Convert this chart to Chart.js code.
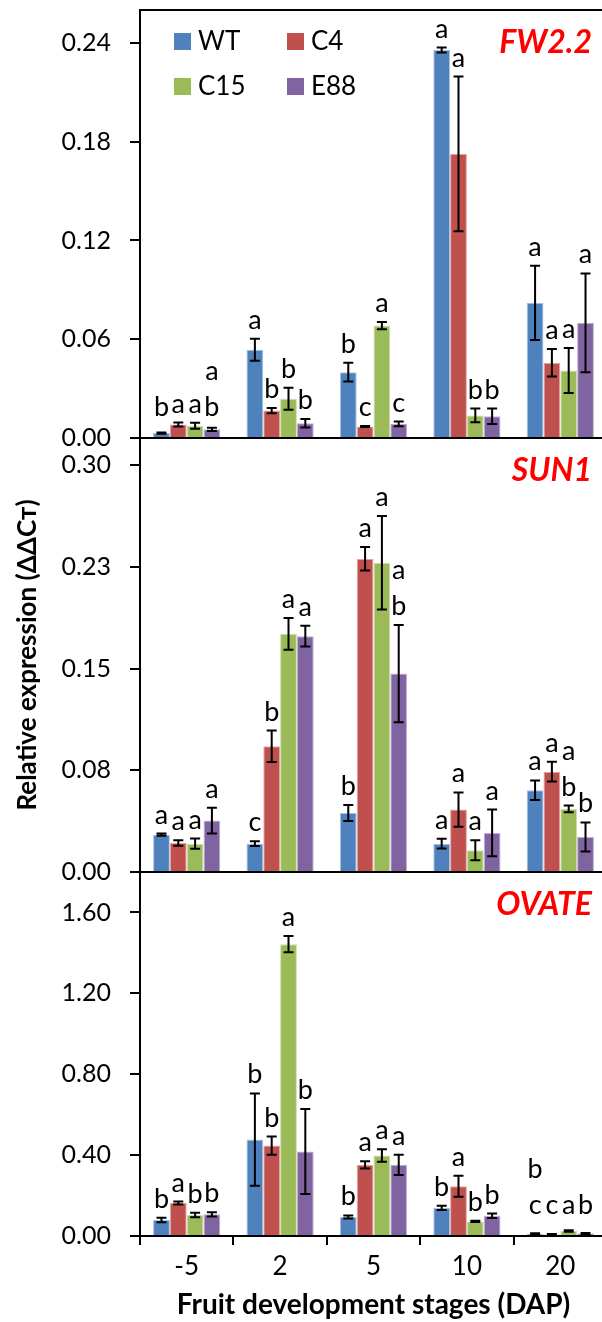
<!DOCTYPE html>
<html>
<head>
<meta charset="utf-8">
<script src="https://cdn.jsdelivr.net/npm/chart.js"></script>
<style>
  html, body { margin: 0; padding: 0; background: #fff; overflow: hidden; }
  #wrap { width: 602px; height: 1322px; overflow: hidden; }
</style>
</head>
<body>
<div id="wrap"><canvas id="chart" width="612" height="1322"></canvas></div>
<script>
/* categories and series */
const stages = ['-5', '2', '5', '10', '20'];
const lines = ['WT', 'C4', 'C15', 'E88'];
const fills = ['#4F81BD', '#C0504D', '#9BBB59', '#8064A2'];
const edges = ['#A9C2E0', '#E0AAA8', '#CEDEAE', '#C0B2D2'];

/* FW2.2 : rows = WT, C4, C15, E88 ; columns = stages */
const fwMean = [
  [0.003, 0.0536, 0.040, 0.2357, 0.0821],
  [0.0082, 0.0167, 0.007, 0.1726, 0.0457],
  [0.0074, 0.0238, 0.0683, 0.0137, 0.041],
  [0.0053, 0.009, 0.0086, 0.0132, 0.070]
];
const fwErr = [
  [0.0004, 0.0067, 0.0057, 0.0015, 0.0226],
  [0.0012, 0.0016, 0.0003, 0.047, 0.0084],
  [0.0018, 0.0067, 0.0022, 0.0042, 0.0137],
  [0.001, 0.0026, 0.0014, 0.0047, 0.030]
];
const fwLetters = [
  ['b', 'a', 'b', 'a', 'a'],
  ['a', 'b', 'c', 'a', 'a'],
  ['a', 'b', 'a', 'b', 'a'],
  ['a\nb', 'b', 'c', 'b', 'a']
];
const fwTicks = [0, 0.06, 0.12, 0.18, 0.24];
const fwTickLabels = ['0.00', '0.06', '0.12', '0.18', '0.24'];

/* SUN1 */
const sunMean = [
  [0.0275, 0.0209, 0.0435, 0.0209, 0.0603],
  [0.0214, 0.0927, 0.231, 0.046, 0.074],
  [0.0209, 0.1756, 0.228, 0.016, 0.0465],
  [0.0379, 0.1739, 0.1463, 0.0288, 0.0258]
];
const sunErr = [
  [0.0008, 0.0018, 0.0059, 0.0036, 0.0072],
  [0.0021, 0.0116, 0.0087, 0.0127, 0.0072],
  [0.0038, 0.0117, 0.0344, 0.0074, 0.0025],
  [0.0095, 0.0076, 0.0358, 0.0172, 0.0107]
];
const sunLetters = [
  ['a', 'c', 'b', 'a', 'a'],
  ['a', 'b', 'a', 'a', 'a'],
  ['a', 'a', 'a', 'a', 'a\nb'],
  ['a', 'a', 'a\nb', 'a', 'b']
];
const sunTicks = [0, 0.075, 0.15, 0.225, 0.30];
const sunTickLabels = ['0.00', '0.08', '0.15', '0.23', '0.30'];

/* OVATE */
const ovMean = [
  [0.079, 0.477, 0.094, 0.139, 0.011],
  [0.163, 0.447, 0.352, 0.246, 0.008],
  [0.104, 1.443, 0.398, 0.072, 0.025],
  [0.107, 0.418, 0.352, 0.10, 0.012]
];
const ovErr = [
  [0.011, 0.228, 0.0075, 0.01, 0.003],
  [0.0075, 0.045, 0.018, 0.052, 0.002],
  [0.0115, 0.04, 0.031, 0.003, 0.004],
  [0.01, 0.21, 0.05, 0.011, 0.003]
];
const ovLetters = [
  ['b', 'b', 'b', 'b', 'b\nc'],
  ['a', 'b', 'a', 'a', 'c'],
  ['b', 'a', 'a', 'b', 'a'],
  ['b', 'b', 'a', 'b', 'b']
];
const ovTicks = [0, 0.4, 0.8, 1.2, 1.6];
const ovTickLabels = ['0.00', '0.40', '0.80', '1.20', '1.60'];

const FONT = 'Lato, "Open Sans", sans-serif';

const panels = [
  { id: 'yFW', gene: 'FW2.2', mean: fwMean, err: fwErr, letters: fwLetters },
  { id: 'ySUN', gene: 'SUN1', mean: sunMean, err: sunErr, letters: sunLetters },
  { id: 'yOV', gene: 'OVATE', mean: ovMean, err: ovErr, letters: ovLetters }
];

const datasets = [];
panels.forEach(p => {
  lines.forEach((name, s) => {
    datasets.push({
      label: name,
      data: p.mean[s],
      errors: p.err[s],
      letters: p.letters[s],
      yAxisID: p.id,
      stack: name,
      backgroundColor: fills[s],
      borderColor: edges[s],
      borderWidth: 1,
      categoryPercentage: 0.72,
      barPercentage: 1.0
    });
  });
});

/* no extra room for labels hanging over the plot edges */
function noPad(s) {
  s.paddingTop = 0;
  s.paddingBottom = 0;
  s.paddingLeft = 0;
  s.paddingRight = 0;
}

/* build a y axis for one panel */
function yAxis(ticks, labels, max, weight, title) {
  return {
    type: 'linear',
    position: 'left',
    stack: 'genes',
    stackWeight: weight,
    min: 0,
    max: max,
    afterBuildTicks: s => { s.ticks = ticks.map(v => ({ value: v })); },
    afterFit: s => { s.width = 140; noPad(s); },
    ticks: {
      color: '#000',
      font: { family: FONT, size: 25 },
      padding: 19,
      autoSkip: false,
      callback: (v, i) => labels[i]
    },
    grid: {
      z: 1,
      color: c => (c.tick && c.tick.value === 0 ? '#000' : 'transparent'),
      lineWidth: 2,
      tickColor: '#000',
      tickLength: 10,
      tickWidth: 2
    },
    border: { display: true, color: '#000', width: 2, z: 2 },
    title: title ? {
      display: true,
      text: title,
      color: '#000',
      font: { family: FONT, size: 26, weight: 'bold' },
      padding: { top: 12, bottom: 0 }
    } : { display: false }
  };
}

/* error bars, letters, legend and gene names */
const overlay = {
  id: 'overlay',
  afterDatasetsDraw(chart) {
    const ctx = chart.ctx;
    const area = chart.chartArea;
    ctx.save();
    ctx.strokeStyle = '#000';
    ctx.lineWidth = 2;
    ctx.beginPath();
    ctx.moveTo(area.left - 1, area.top);
    ctx.lineTo(area.right, area.top);
    ctx.stroke();

    ctx.font = '27px ' + FONT;
    ctx.fillStyle = '#000';
    ctx.textAlign = 'center';
    ctx.textBaseline = 'alphabetic';
    chart.data.datasets.forEach((ds, i) => {
      const meta = chart.getDatasetMeta(i);
      const scale = chart.scales[ds.yAxisID];
      meta.data.forEach((bar, j) => {
        const v = ds.data[j];
        const e = ds.errors[j];
        const yTop = scale.getPixelForValue(v + e);
        const yBot = scale.getPixelForValue(Math.max(v - e, 0));
        ctx.lineWidth = 2;
        ctx.beginPath();
        ctx.moveTo(bar.x, yTop); ctx.lineTo(bar.x, yBot);
        ctx.moveTo(bar.x - 5, yTop); ctx.lineTo(bar.x + 5, yTop);
        ctx.moveTo(bar.x - 5, yBot); ctx.lineTo(bar.x + 5, yBot);
        ctx.stroke();
        const parts = ds.letters[j].split('\n').reverse();
        const base = Math.min(yTop - 10, scale.bottom - 22);
        parts.forEach((t, k) => ctx.fillText(t, bar.x, base - k * 36));
      });
    });

    // legend in the first panel
    ctx.textAlign = 'left';
    ctx.textBaseline = 'middle';
    ctx.font = '26px ' + FONT;
    lines.forEach((name, s) => {
      const x = area.left + 34 + (s % 2) * 113;
      const y = area.top + 23 + Math.floor(s / 2) * 45;
      ctx.fillStyle = fills[s];
      ctx.fillRect(x, y, 17, 17);
      ctx.fillStyle = '#000';
      ctx.fillText(name, x + 24, y + 9);
    });

    // gene names
    ctx.textAlign = 'right';
    ctx.fillStyle = '#FF0000';
    ctx.font = 'italic bold 32px ' + FONT;
    panels.forEach(p => {
      const sc = chart.scales[p.id];
      ctx.fillText(p.gene, area.right - 15, sc.top + 33);
    });
    ctx.restore();
  }
};

new Chart(document.getElementById('chart'), {
  type: 'bar',
  data: { labels: stages, datasets: datasets },
  options: {
    responsive: false,
    animation: false,
    devicePixelRatio: 1,
    layout: { padding: { top: 10, right: 5, bottom: 0, left: 0 } },
    plugins: { legend: { display: false }, tooltip: { enabled: false } },
    scales: {
      x: {
        position: 'bottom',
        afterFit: s => { s.height = 86; noPad(s); },
        ticks: { color: '#000', font: { family: FONT, size: 26 }, padding: 6 },
        grid: {
          offset: true,
          drawOnChartArea: false,
          color: '#000',
          lineWidth: 2,
          tickLength: 9
        },
        border: { display: true, color: '#000', width: 2 },
        title: {
          display: true,
          text: 'Fruit development stages (DAP)',
          color: '#000',
          font: { family: FONT, size: 28, weight: 'bold' },
          padding: { top: 0, bottom: 0 }
        }
      },
      yOV: yAxis(ovTicks, ovTickLabels, 1.8, 364, null),
      ySUN: yAxis(sunTicks, sunTickLabels, 0.32, 434, 'Relative expression (ΔΔCт)'),
      yFW: yAxis(fwTicks, fwTickLabels, 0.26, 428, null)
    }
  },
  plugins: [overlay]
});
</script>
</body>
</html>
